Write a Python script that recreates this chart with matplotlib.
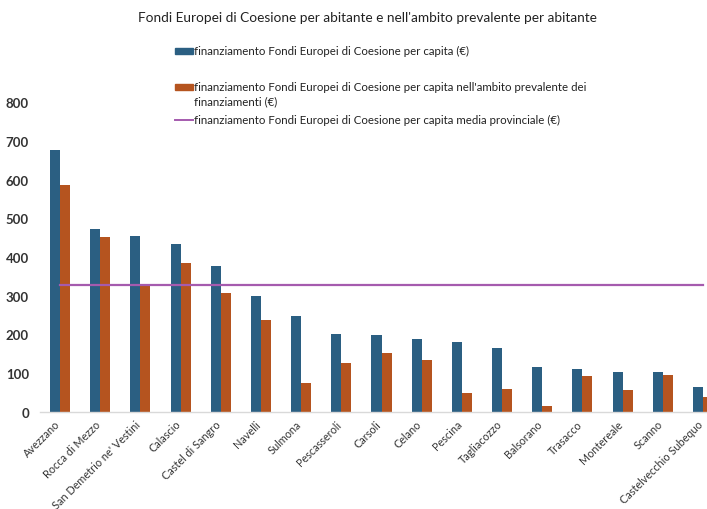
import matplotlib
matplotlib.use("Agg")
import matplotlib.pyplot as plt
import matplotlib.transforms as mtransforms
import numpy as np
from matplotlib.patches import Rectangle
from matplotlib.lines import Line2D

categories = ["Avezzano", "Rocca di Mezzo", "San Demetrio ne' Vestini", "Calascio",
              "Castel di Sangro", "Navelli", "Sulmona", "Pescasseroli", "Carsoli",
              "Celano", "Pescina", "Tagliacozzo", "Balsorano", "Trasacco",
              "Montereale", "Scanno", "Castelvecchio Subequo"]
per_capita = [677, 473, 455, 434, 376, 299, 249, 201, 200, 188, 180, 165, 115, 111, 103, 103, 65]
per_capita_ambito = [585, 452, 328, 385, 308, 238, 76, 127, 152, 134, 50, 60, 15, 93, 58, 96, 38]
media_provinciale = 328

labels = ["finanziamento Fondi Europei di Coesione per capita (€)",
          "finanziamento Fondi Europei di Coesione per capita nell'ambito prevalente dei",
          "finanziamenti (€)",
          "finanziamento Fondi Europei di Coesione per capita media provinciale (€)"]
title = "Fondi Europei di Coesione per abitante e nell'ambito prevalente per abitante"

BLUE = "#2B5F82"
ORANGE = "#B5541F"
PURPLE = "#A55BAE"
TXT = "#333333"

plt.rcParams['font.family'] = ['Lato', 'DejaVu Sans']

W, H = 707, 510
fig = plt.figure(figsize=(W / 100, H / 100), dpi=100)
fig.patch.set_facecolor("white")

left, right, bottom, top = 40, 707, 413, 103
ax = fig.add_axes([left / W, 1 - bottom / H, (right - left) / W, (bottom - top) / H])

x = np.arange(len(categories))
bw = 0.25
ax.bar(x - bw / 2, per_capita, width=bw, color=BLUE)
ax.bar(x + bw / 2, per_capita_ambito, width=bw, color=ORANGE)
ax.plot([x[0], x[-1]], [media_provinciale, media_provinciale], color=PURPLE, lw=1.6)

ax.set_ylim(0, 800)
ax.set_xlim(-0.5, 16.1)
ax.set_yticks(range(0, 801, 100))
ax.tick_params(axis='y', length=0, pad=8, labelsize=9.5, labelcolor=TXT)
ax.tick_params(axis='x', length=0, pad=0)
ax.set_xticks(x)
ax.set_xticklabels(categories, rotation=45, ha='right', va='center', rotation_mode='anchor',
                   fontsize=7.8, color=TXT)
off = mtransforms.ScaledTranslation(-2 / 100, -10 / 100, fig.dpi_scale_trans)
for lab in ax.get_xticklabels():
    lab.set_transform(lab.get_transform() + off)
for lab in ax.get_yticklabels():
    lab.set_fontweight('bold')
for s in ["top", "right", "left"]:
    ax.spines[s].set_visible(False)
ax.spines["bottom"].set_color("#D9D9D9")
ax.spines["bottom"].set_linewidth(1.0)

fig.text(367 / W, 1 - 18 / H, title, ha='center', va='center', fontsize=9.8, color="#222222")


def fy(py):
    return 1 - py / H


LFS = 8.3
fig.patches.append(Rectangle((175 / W, fy(54.5)), 18 / W, 6 / H, transform=fig.transFigure,
                             color=BLUE, figure=fig))
fig.text(194 / W, fy(51.5), labels[0], ha='left', va='center', fontsize=LFS, color="#222222")
fig.patches.append(Rectangle((175 / W, fy(90.5)), 18 / W, 6 / H, transform=fig.transFigure,
                             color=ORANGE, figure=fig))
fig.text(194 / W, fy(87.5), labels[1], ha='left', va='center', fontsize=LFS, color="#222222")
fig.text(194 / W, fy(101.5), labels[2], ha='left', va='center', fontsize=LFS, color="#222222")
fig.lines.append(Line2D([175 / W, 193 / W], [fy(120.5), fy(120.5)], transform=fig.transFigure,
                        color=PURPLE, lw=1.4, figure=fig))
fig.text(194 / W, fy(120.5), labels[3], ha='left', va='center', fontsize=LFS, color="#222222")

fig.savefig("out.png", dpi=100)
